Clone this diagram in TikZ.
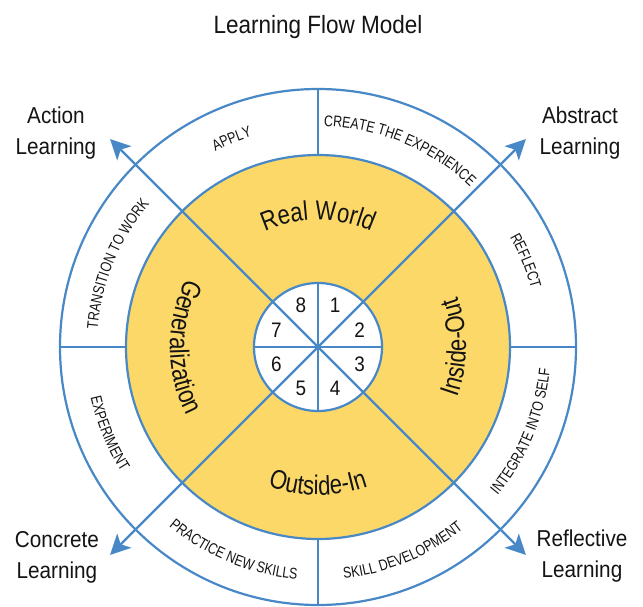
\documentclass[tikz,border=0pt]{standalone}
\usepackage{fontspec}
\setmainfont{Liberation Sans}[FakeStretch=0.9]
\newfontfamily\lfmNarrow{Liberation Sans}[FakeStretch=0.82]
\newfontfamily\lfmNarrower{Liberation Sans}[FakeStretch=0.8]
\usetikzlibrary{arrows.meta,decorations.text}
\definecolor{lineblue}{RGB}{72,136,198}
\definecolor{ringyellow}{RGB}{252,216,104}
\definecolor{txt}{RGB}{20,20,20}
\newcommand\lfmTitleFont{\fontsize{25}{30}\selectfont}
\newcommand\lfmLabFont{\fontsize{23}{31}\selectfont}
\newcommand\lfmInnerFont{\lfmNarrow\fontsize{27}{30}\selectfont}
\newcommand\lfmRingFont{\lfmNarrower\fontsize{15.5}{17}\selectfont}
\newcommand\lfmNumFont{\fontsize{21}{24}\selectfont}
\begin{document}
\begin{tikzpicture}[x=1pt,y=1pt,
  bl/.style={draw=lineblue,line width=2.2pt},
  arrowline/.style={draw=lineblue,line width=2.2pt,-{Stealth[length=20pt,width=20pt,inset=5pt]}},
  lab/.style={align=center,inner sep=0pt,text=txt,font=\lfmLabFont},
  num/.style={inner sep=0pt,text=txt,font=\lfmNumFont},
  curved/.style={decorate,decoration={text along path,text align=center,text color=txt,text={#1}}}
]
\fill[white] (-318,-259) rectangle (325,347);
\useasboundingbox (-318,-259) rectangle (325,347);
\coordinate (C) at (0,0);
\node[font=\lfmTitleFont,text=txt,anchor=base,inner sep=0pt] (title) at (0,314) {Learning Flow Model};
% circles
\draw[bl,fill=white] (C) circle[radius=258];
\draw[bl,fill=ringyellow] (C) circle[radius=192];
\foreach \a in {0,90,180,270} \draw[bl] (\a:192) -- (\a:258);
\draw[bl,fill=white] (C) circle[radius=64];
\draw[bl] (0:64) -- (180:64);
\draw[bl] (90:64) -- (270:64);
% arrows
\coordinate (tAct) at (135:294);
\coordinate (tAbs) at (45:294);
\coordinate (tCon) at (225:294);
\coordinate (tRef) at (315:294);
\draw[arrowline] (C) -- (tAct);
\draw[arrowline] (C) -- (tAbs);
\draw[arrowline] (C) -- (tCon);
\draw[arrowline] (C) -- (tRef);
% numbers
\foreach \n/\a in {1/67.5,2/22.5,3/-22.5,4/-67.5,5/-112.5,6/-157.5,7/157.5,8/112.5}
  \node[num] (n\n) at (\a:45) {\n};
% inner curved labels
\path[curved={|\lfmInnerFont|Real World}] (135:127) arc[start angle=135,end angle=45,radius=127];
\path[curved={|\lfmInnerFont|Inside-Out}] (-45:148) arc[start angle=-45,end angle=45,radius=148];
\path[curved={|\lfmInnerFont|Outside-In}] (-135:148) arc[start angle=-135,end angle=-45,radius=148];
\path[curved={|\lfmInnerFont|Generalization}] (135:148) arc[start angle=135,end angle=225,radius=148];
% ring labels (upper half: clockwise)
\path[curved={|\lfmRingFont|APPLY}] (135:221) arc[start angle=135,end angle=90,radius=221];
\path[curved={|\lfmRingFont|CREATE THE EXPERIENCE}] (90:221) arc[start angle=90,end angle=45,radius=221];
\path[curved={|\lfmRingFont|REFLECT}] (45:221) arc[start angle=45,end angle=0,radius=221];
\path[curved={|\lfmRingFont|TRANSITION TO WORK}] (180:221) arc[start angle=180,end angle=135,radius=221];
% ring labels (lower half: counterclockwise)
\path[curved={|\lfmRingFont|INTEGRATE INTO SELF}] (-45:233) arc[start angle=-45,end angle=0,radius=233];
\path[curved={|\lfmRingFont|SKILL DEVELOPMENT}] (-90:233) arc[start angle=-90,end angle=-45,radius=233];
\path[curved={|\lfmRingFont|PRACTICE NEW SKILLS}] (-135:233) arc[start angle=-135,end angle=-90,radius=233];
\path[curved={|\lfmRingFont|EXPERIMENT}] (180:233) arc[start angle=180,end angle=225,radius=233];
% corner labels
\node[lab] (act) at (-262,214) {Action\\Learning};
\node[lab] (abs) at (262,214) {Abstract\\Learning};
\node[lab] (con) at (-261,-210) {Concrete\\Learning};
\node[lab] (ref) at (264,-209) {Reflective\\Learning};
\end{tikzpicture}
\end{document}
